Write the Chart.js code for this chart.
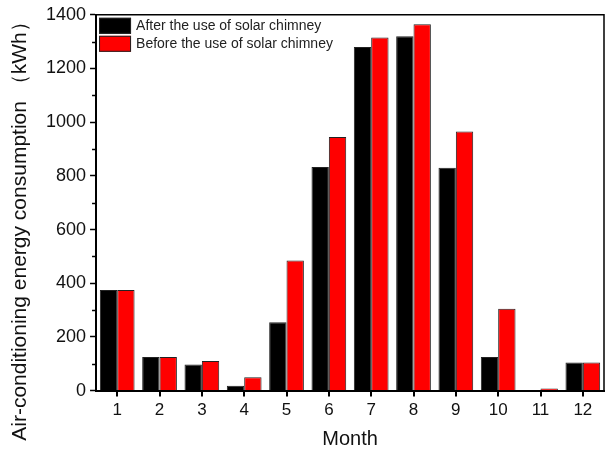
<!DOCTYPE html>
<html>
<head>
<meta charset="utf-8">
<script src="https://cdn.jsdelivr.net/npm/chart.js@4/dist/chart.umd.min.js"></script>
<style>
  body { margin: 0; background: #fff; }
</style>
</head>
<body>
<canvas id="chart" width="607" height="457"></canvas>
<script>
const months = ['1', '2', '3', '4', '5', '6', '7', '8', '9', '10', '11', '12'];
const afterUse = [375, 125, 97, 18, 255, 833, 1280, 1320, 830, 125, 0, 105];
const beforeUse = [375, 125, 110, 50, 485, 945, 1315, 1365, 965, 305, 8, 105];
const yTicks = [0, 200, 400, 600, 800, 1000, 1200, 1400];
const seriesNames = ['After the use of solar chimney', 'Before the use of solar chimney'];
const yTitle = 'Air-conditioning energy consumption （kWh）';

const FONT = 'Liberation Sans, Arial, sans-serif';

// frame, tick marks, y title and the legend drawn inside the plot
const framePlugin = {
    id: 'frame',
    afterDraw(chart) {
        const ctx = chart.ctx;
        const a = chart.chartArea;
        const x = chart.scales.x;
        const y = chart.scales.y;
        ctx.save();
        ctx.strokeStyle = '#000';
        ctx.lineWidth = 1.5;
        ctx.beginPath();
        ctx.moveTo(a.left, a.top);
        ctx.lineTo(a.right, a.top);
        ctx.lineTo(a.right, a.bottom);
        ctx.stroke();

        // minor y ticks
        for (let v = 100; v < 1400; v += 200) {
            const py = Math.round(y.getPixelForValue(v)) + 0.5;
            ctx.beginPath();
            ctx.moveTo(a.left - 4, py);
            ctx.lineTo(a.left, py);
            ctx.stroke();
        }

        // x ticks under each month
        ctx.lineWidth = 2;
        months.forEach((m, i) => {
            const px = Math.round(x.getPixelForValue(i));
            ctx.beginPath();
            ctx.moveTo(px, a.bottom);
            ctx.lineTo(px, a.bottom + 6);
            ctx.stroke();
        });

        // y axis title, a bit below the plot centre like the original
        ctx.save();
        ctx.translate(20, 226);
        ctx.rotate(-Math.PI / 2);
        ctx.font = '21px ' + FONT;
        ctx.fillStyle = '#111';
        ctx.textAlign = 'center';
        ctx.textBaseline = 'middle';
        ctx.fillText(yTitle, 0, 0);
        ctx.restore();

        // legend
        const colors = ['#000000', '#ff0000'];
        const lx = a.left + 3, ly = a.top + 3;
        ctx.font = '14px ' + FONT;
        ctx.textBaseline = 'middle';
        colors.forEach((c, i) => {
            const top = ly + i * 18;
            ctx.fillStyle = c;
            ctx.fillRect(lx, top, 32, 16);
            ctx.strokeStyle = '#222';
            ctx.lineWidth = 1;
            ctx.strokeRect(lx + 0.5, top + 0.5, 31, 15);
            ctx.fillStyle = '#222';
            ctx.fillText(seriesNames[i], lx + 37, top + 8);
        });
        ctx.restore();
    }
};

const chart = new Chart(document.getElementById('chart').getContext('2d'), {
    type: 'bar',
    data: {
        labels: months,
        datasets: [
            {
                label: seriesNames[0],
                data: afterUse,
                backgroundColor: '#000000',
                borderColor: '#222',
                borderWidth: 1
            },
            {
                label: seriesNames[1],
                data: beforeUse,
                backgroundColor: '#ff0000',
                borderColor: '#222',
                borderWidth: 1
            }
        ]
    },
    options: {
        responsive: false,
        animation: false,
        layout: {
            padding: { top: 0, right: 3, left: 42, bottom: 0 }
        },
        datasets: {
            bar: {
                categoryPercentage: 0.82,
                barPercentage: 1.0
            }
        },
        plugins: {
            legend: { display: false },
            tooltip: { enabled: false }
        },
        scales: {
            x: {
                grid: {
                    display: true,
                    drawOnChartArea: false,
                    drawTicks: true,
                    tickLength: 6,
                    tickWidth: 0,
                    tickColor: 'rgba(0,0,0,0)'
                },
                border: { display: true, color: '#000', width: 2 },
                ticks: {
                    color: '#111',
                    font: { family: FONT, size: 17 },
                    padding: 4
                },
                title: {
                    display: true,
                    text: 'Month',
                    color: '#111',
                    font: { family: FONT, size: 20 },
                    padding: { top: 2, bottom: 6 }
                }
            },
            y: {
                min: 0,
                max: 1400,
                afterBuildTicks: (axis) => {
                    axis.ticks = yTicks.map(v => ({ value: v }));
                },
                grid: {
                    display: true,
                    drawOnChartArea: false,
                    drawTicks: true,
                    tickLength: 6,
                    tickWidth: 1.5,
                    tickColor: '#000'
                },
                border: { display: true, color: '#000', width: 2 },
                ticks: {
                    color: '#111',
                    font: { family: FONT, size: 18 },
                    padding: 4,
                    callback: (v) => String(v)
                }
            }
        }
    },
    plugins: [framePlugin]
});
</script>
</body>
</html>
